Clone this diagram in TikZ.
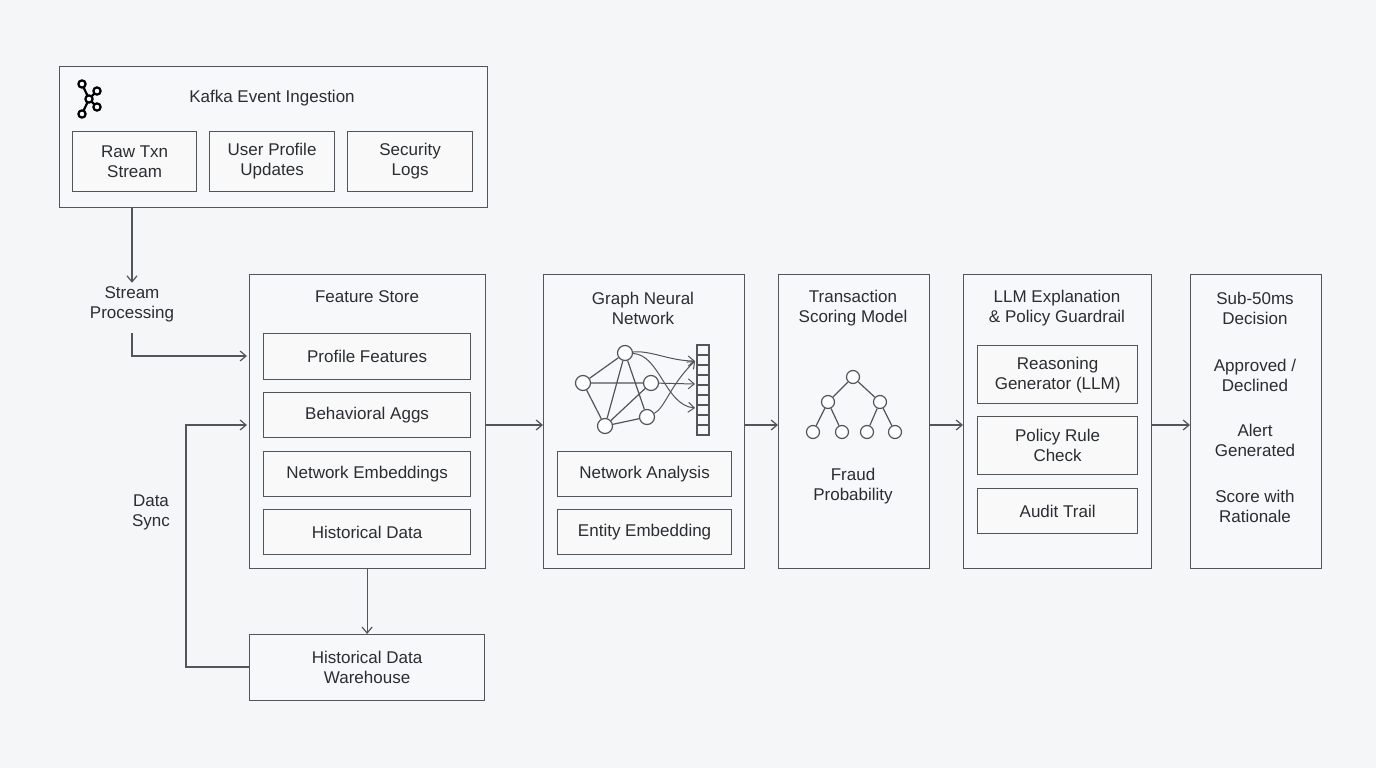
\documentclass[tikz,border=0pt]{standalone}
\usepackage{fontspec}
\setmainfont{Liberation Sans}
\usetikzlibrary{arrows.meta}
\definecolor{ln}{HTML}{50565C}
\definecolor{bg}{HTML}{F5F6F7}
\definecolor{tx}{HTML}{2A2D31}
\tikzset{x=1pt,y=-1pt,
 box/.style={draw=ln,line width=1.2pt,fill=white,fill opacity=0.25,text opacity=1},
 lbl/.style={text=tx,font=\fontsize{17}{20}\selectfont,align=center},
 arr/.style={draw=ln,line width=1.2pt,-{Straight Barb[length=6pt,width=10pt]}},
 nd/.style={circle,draw=ln,line width=1.2pt,fill=white,minimum size=15pt,inner sep=0pt},
 sm/.style={circle,draw=ln,line width=1.2pt,fill=white,minimum size=13pt,inner sep=0pt},
 ic/.style={draw=ln,line width=1.2pt}}
\newcommand{\bx}[5]{\node[box,minimum width=#4-#2,minimum height=#5-#3,anchor=north west] (#1) at (#2,#3) {};}
\begin{document}
\begin{tikzpicture}
\fill[bg] (0,0) rectangle (1376,768);
\useasboundingbox (0,0) rectangle (1376,768);
% Kafka
\bx{kafka}{59}{66}{487}{207}
\node[lbl] (kt) at (272,98) {Kafka Event Ingestion};
\begin{scope}[line width=2.2pt,draw=black]
\draw (89,99)--(82,84) (89,99)--(82,114) (89,99)--(97,91) (89,99)--(97,107);
\foreach \p in {(82,84),(82,114),(97,91),(97,107),(89,99)} \draw[fill=white] \p circle (3.6);
\end{scope}
\bx{raw}{72}{131}{196}{191}\node[lbl] at (raw) {Raw Txn\\Stream};
\bx{usr}{209}{131}{334}{191}\node[lbl] at (usr) {User Profile\\Updates};
\bx{sec}{347}{131}{472}{191}\node[lbl] at (sec) {Security\\Logs};
\node[lbl] (sp) at (132,304) {Stream\\Processing};
\draw[arr] (kafka.south -| sp) -- (sp.north);
% Feature store
\bx{fs}{249}{274}{485}{568}
\node[lbl] at (367,297) {Feature Store};
\bx{pf}{263}{333}{470}{379}\node[lbl] at (pf) {Profile Features};
\bx{ba}{263}{392}{470}{437}\node[lbl] at (ba) {Behavioral Aggs};
\bx{ne}{263}{451}{470}{496}\node[lbl] at (ne) {Network Embeddings};
\bx{hd}{263}{509}{470}{554}\node[lbl] at (hd) {Historical Data};
\coordinate (spe) at (132,333);
\draw[arr] (spe) |- (247,356);
\bx{wh}{249}{634}{484}{700}\node[lbl] at (wh) {Historical Data\\Warehouse};
\draw[arr] (fs.south -| wh) -- (wh.north);
\draw[arr] (wh.west |- 0,667) -- (186,667) -- (186,425) -- (247,425);
\node[lbl] (ds) at (151,512) {Data\\Sync};
% GNN
\bx{gnn}{543}{274}{744}{568}
\node[lbl] at (643,308) {Graph Neural\\Network};
\bx{na}{557}{451}{731}{496}\node[lbl] at (na) {Network Analysis};
\bx{ee}{557}{509}{731}{554}\node[lbl] at (ee) {Entity Embedding};
\draw[arr] (485,425) -- (gnn.west |- 0,425);
\foreach \i in {0,...,8} \draw[ic] (697,345+\i*10) rectangle (709,355+\i*10);
\coordinate (va) at (695,361); \coordinate (vb) at (695,384); \coordinate (vc) at (695,408);
\node[nd] (A) at (625,353) {};
\node[nd] (B) at (583,383) {};
\node[nd] (C) at (651,383) {};
\node[nd] (D) at (605,426) {};
\node[nd] (E) at (647,417) {};
\begin{scope}[on background layer/.style={}]
\draw[ic] (A)--(B) (A)--(D) (A)--(E) (B)--(C) (B)--(D) (D)--(C) (D)--(E);
\end{scope}
\draw[arr,line width=1pt] (A) .. controls (650,350) and (670,361) .. (va);
\draw[arr,line width=1pt] (A) .. controls (660,355) and (665,405) .. (vc);
\draw[arr,line width=1pt] (C) -- (vb);
\draw[arr,line width=1pt] (E) .. controls (665,408) and (670,385) .. (va);
% Scoring
\bx{ts}{778}{274}{929}{568}
\node[lbl] at (853,308) {Transaction\\Scoring Model};
\draw[arr] (gnn.east |- 0,425) -- (ts.west |- 0,425);
\node[sm] (r) at (853,377) {};
\node[sm] (m1) at (828,402) {}; \node[sm] (m2) at (880,402) {};
\node[sm] (l1) at (813,432) {}; \node[sm] (l2) at (842,432) {};
\node[sm] (l3) at (867,432) {}; \node[sm] (l4) at (895,432) {};
\draw[ic] (r)--(m1) (r)--(m2) (m1)--(l1) (m1)--(l2) (m2)--(l3) (m2)--(l4);
\node[lbl] at (853,486) {Fraud\\Probability};
% LLM
\bx{llm}{963}{274}{1151}{568}
\node[lbl] at (1057,308) {LLM Explanation\\\& Policy Guardrail};
\bx{rg}{977}{345}{1137}{403}\node[lbl] at (rg) {Reasoning\\Generator (LLM)};
\bx{pr}{977}{416}{1137}{474}\node[lbl] at (pr) {Policy Rule\\Check};
\bx{at}{977}{488}{1137}{533}\node[lbl] at (at) {Audit Trail};
\draw[arr] (ts.east |- 0,425) -- (llm.west |- 0,425);
% Decision
\bx{dec}{1190}{274}{1321}{568}
\node[lbl] at (1255,308) {Sub-50ms\\Decision};
\node[lbl] at (1255,375) {Approved /\\Declined};
\node[lbl] at (1255,440) {Alert\\Generated};
\node[lbl] at (1255,506) {Score with\\Rationale};
\draw[arr] (llm.east |- 0,425) -- (dec.west |- 0,425);
\end{tikzpicture}
\end{document}
